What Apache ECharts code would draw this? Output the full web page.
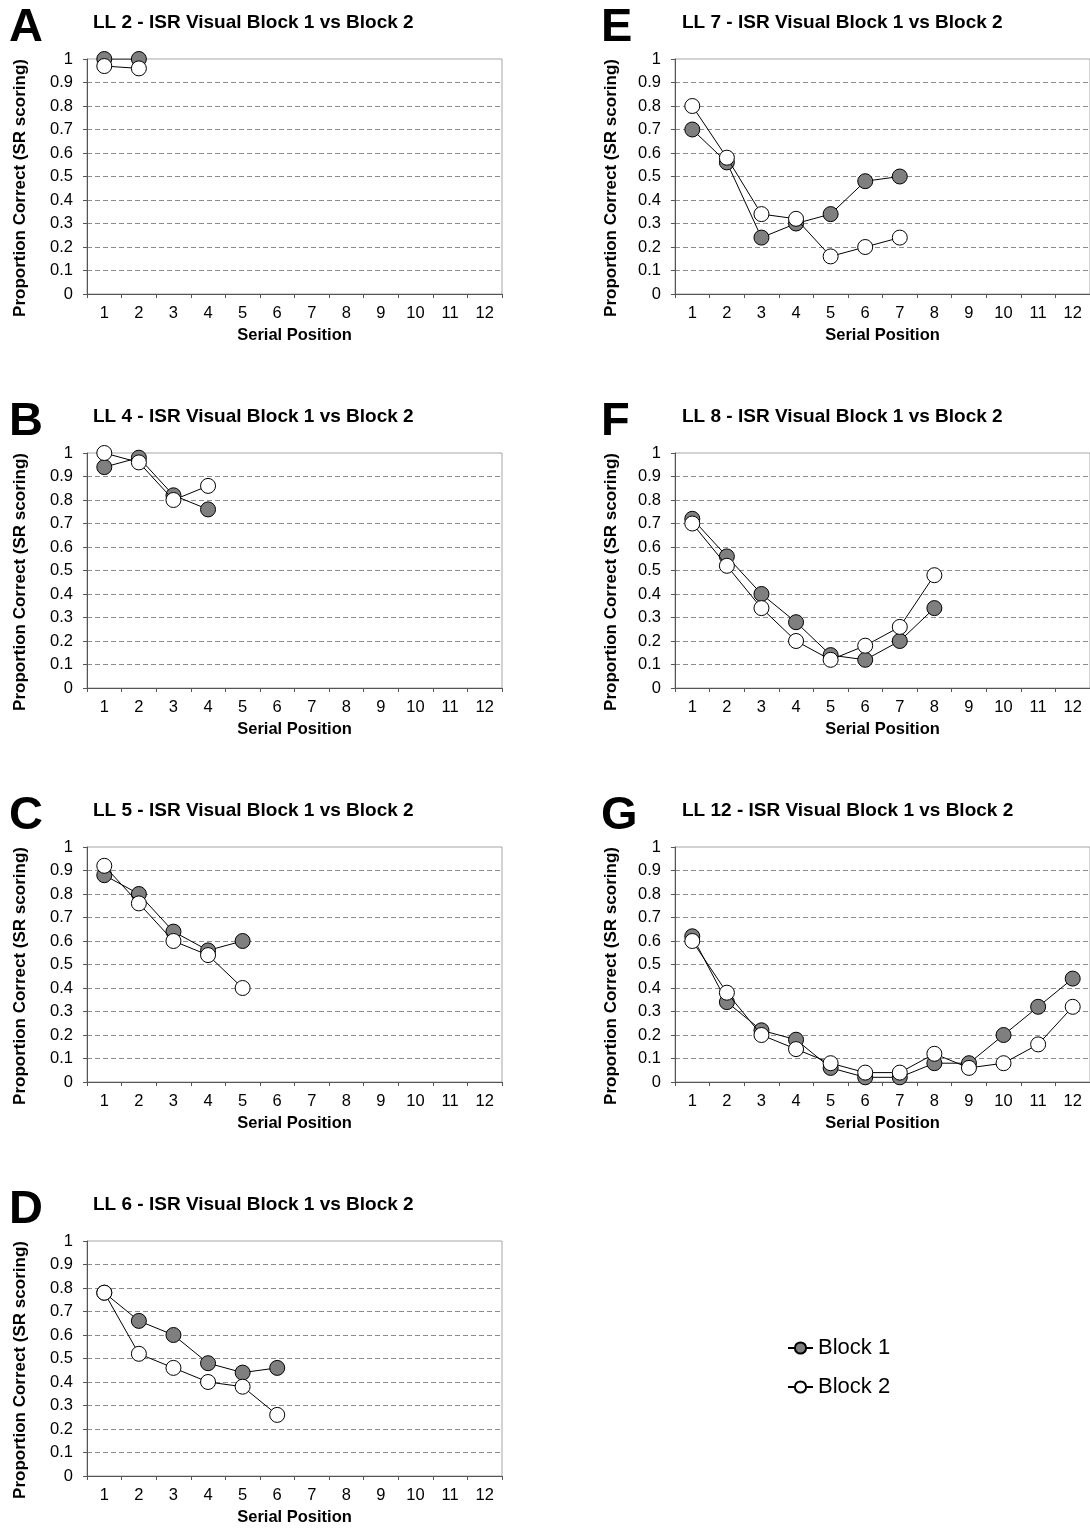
<!DOCTYPE html>
<html>
<head>
<meta charset="utf-8">
<script src="https://cdn.jsdelivr.net/npm/echarts@6/dist/echarts.min.js"></script>
<style>
  html, body { margin: 0; padding: 0; background: #fff; }
  #c { width: 1090px; height: 1528px; }
</style>
</head>
<body>
<div id="c"></div>
<script>
// Serial positions on the x axis
const serialPositions = ['1', '2', '3', '4', '5', '6', '7', '8', '9', '10', '11', '12'];

// Panel labels and list lengths
const panelLetters = ['A', 'B', 'C', 'D', 'E', 'F', 'G'];
const listLengths = [2, 4, 5, 6, 7, 8, 12];

// Proportion correct per serial position, Block 1 and Block 2
const ll2Block1 = [1.00, 1.00];
const ll2Block2 = [0.97, 0.96];

const ll4Block1 = [0.94, 0.98, 0.82, 0.76];
const ll4Block2 = [1.00, 0.96, 0.80, 0.86];

const ll5Block1 = [0.88, 0.80, 0.64, 0.56, 0.60];
const ll5Block2 = [0.92, 0.76, 0.60, 0.54, 0.40];

const ll6Block1 = [0.78, 0.66, 0.60, 0.48, 0.44, 0.46];
const ll6Block2 = [0.78, 0.52, 0.46, 0.40, 0.38, 0.26];

const ll7Block1 = [0.70, 0.56, 0.24, 0.30, 0.34, 0.48, 0.50];
const ll7Block2 = [0.80, 0.58, 0.34, 0.32, 0.16, 0.20, 0.24];

const ll8Block1 = [0.72, 0.56, 0.40, 0.28, 0.14, 0.12, 0.20, 0.34];
const ll8Block2 = [0.70, 0.52, 0.34, 0.20, 0.12, 0.18, 0.26, 0.48];

const ll12Block1 = [0.62, 0.34, 0.22, 0.18, 0.06, 0.02, 0.02, 0.08, 0.08, 0.20, 0.32, 0.44];
const ll12Block2 = [0.60, 0.38, 0.20, 0.14, 0.08, 0.04, 0.04, 0.12, 0.06, 0.08, 0.16, 0.32];

const block1Sets = [ll2Block1, ll4Block1, ll5Block1, ll6Block1, ll7Block1, ll8Block1, ll12Block1];
const block2Sets = [ll2Block2, ll4Block2, ll5Block2, ll6Block2, ll7Block2, ll8Block2, ll12Block2];

const FONT = '"Liberation Sans", Arial, sans-serif';

const chart = echarts.init(document.getElementById('c'), null, { renderer: 'canvas', width: 1090, height: 1528 });

const grids = [], xAxes = [], yAxes = [], series = [], graphics = [];

panelLetters.forEach((letter, i) => {
  const col = i < 4 ? 0 : 1;
  const row = i < 4 ? i : i - 4;
  const left = col === 0 ? 87 : 675;
  const top = 59 + row * 394;

  grids.push({
    left: left, top: top, width: 415, height: 235,
    show: true, borderColor: '#a6a6a6', borderWidth: 1, backgroundColor: 'transparent'
  });

  xAxes.push({
    gridIndex: i,
    type: 'category',
    data: serialPositions,
    boundaryGap: true,
    axisLine: { show: true, lineStyle: { color: '#555', width: 1 } },
    axisTick: { show: true, length: 4, interval: 0, lineStyle: { color: '#555' } },
    axisLabel: { color: '#000', fontSize: 16.5, fontFamily: FONT, margin: 11, interval: 0 },
    splitLine: { show: false },
    name: 'Serial Position',
    nameLocation: 'middle',
    nameGap: 33,
    nameTextStyle: { color: '#000', fontSize: 16.5, fontWeight: 'bold', fontFamily: FONT }
  });

  yAxes.push({
    gridIndex: i,
    type: 'value',
    min: 0, max: 1, interval: 0.1,
    axisLine: { show: true, lineStyle: { color: '#555', width: 1 } },
    axisTick: { show: true, length: 4, lineStyle: { color: '#555' } },
    axisLabel: {
      color: '#000', fontSize: 16.5, fontFamily: FONT, margin: 14,
      formatter: v => String(Math.round(v * 10) / 10)
    },
    splitLine: { show: true, showMaxLine: false, lineStyle: { color: '#8c8c8c', type: [5, 3], width: 1 } }
  });

  const symbolStyle = (fill) => ({ color: fill, borderColor: '#000', borderWidth: 1 });

  series.push({
    name: 'Block 1', type: 'line', xAxisIndex: i, yAxisIndex: i,
    data: block1Sets[i], symbol: 'circle', symbolSize: 15,
    itemStyle: symbolStyle('#7f7f7f'),
    lineStyle: { color: '#000', width: 1 },
    emphasis: { disabled: true }, z: 3
  });
  series.push({
    name: 'Block 2', type: 'line', xAxisIndex: i, yAxisIndex: i,
    data: block2Sets[i], symbol: 'circle', symbolSize: 15,
    itemStyle: symbolStyle('#ffffff'),
    lineStyle: { color: '#000', width: 1 },
    emphasis: { disabled: true }, z: 4
  });

  // Panel letter
  graphics.push({
    type: 'text', x: col === 0 ? 9 : 601, y: top - 31,
    style: { text: letter, font: 'bold 47px ' + FONT, fill: '#000', textAlign: 'left', textVerticalAlign: 'middle' }
  });
  // Panel title
  graphics.push({
    type: 'text', x: col === 0 ? 93 : 682, y: top - 36,
    style: { text: 'LL ' + listLengths[i] + ' - ISR Visual Block 1 vs Block 2', font: 'bold 19px ' + FONT, fill: '#000', textAlign: 'left', textVerticalAlign: 'middle' }
  });
  // Rotated y-axis title
  graphics.push({
    type: 'text', x: col === 0 ? 20 : 611, y: top + 129, rotation: Math.PI / 2,
    style: { text: 'Proportion Correct (SR scoring)', font: 'bold 17px ' + FONT, fill: '#000', textAlign: 'center', textVerticalAlign: 'middle' }
  });
});

chart.setOption({
  animation: false,
  backgroundColor: '#fff',
  grid: grids,
  xAxis: xAxes,
  yAxis: yAxes,
  series: series,
  graphic: graphics,
  legend: {
    data: ['Block 1', 'Block 2'],
    orient: 'vertical',
    left: 787, top: 1337, padding: 0,
    itemWidth: 25, itemHeight: 14, itemGap: 17,
    textStyle: { color: '#000', fontSize: 22, fontFamily: FONT },
    selectedMode: false
  }
});
</script>
</body>
</html>
